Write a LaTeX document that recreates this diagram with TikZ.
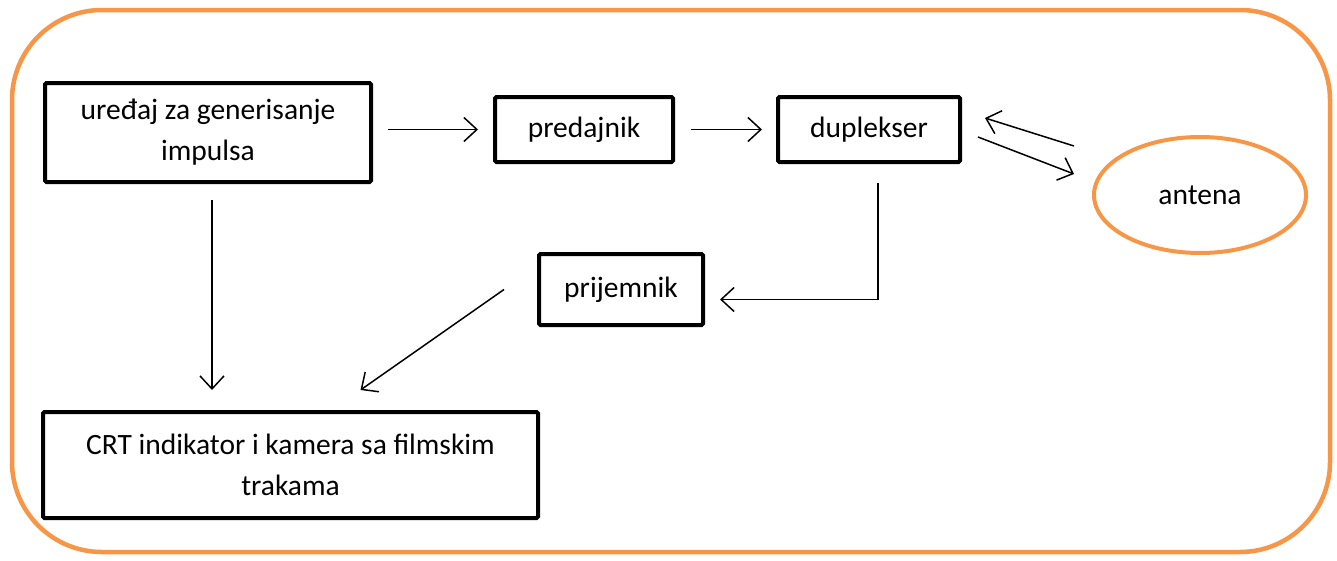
\documentclass[tikz,border=0pt]{standalone}
\usepackage{fontspec}
\setmainfont{Carlito}
\usepackage{tikz}
\usetikzlibrary{arrows.meta,shapes.geometric,calc}
\definecolor{narandza}{HTML}{F79646}

\begin{document}
\begin{tikzpicture}[x=1pt,y=-1pt,
	blok/.style={draw, line width=4pt, rounded corners=1.5pt, inner sep=0pt, align=center, font=\fontsize{29.5}{41}\selectfont},
	veza/.style={line width=1.5pt, -{Straight Barb[length=13pt,width=24pt]}}]
	\useasboundingbox (0,0) rectangle (1337,560);
	%okvir
	\draw [narandza, line width=4.5pt, rounded corners=90pt] (12,10) rectangle (1330,552);
	
	\node[blok, minimum width=326pt, minimum height=99pt] (gen) at (208,132.5) {uređaj za generisanje\\impulsa};
	\node[blok, minimum width=178pt, minimum height=65pt] (pred) at (584,129.5) {predajnik};
	\node[blok, minimum width=182pt, minimum height=65pt] (dup) at (869,129.5) {duplekser};
	\node[blok, minimum width=164pt, minimum height=71pt] (prij) at (621,289.5) {prijemnik};
	\node[blok, minimum width=495pt, minimum height=106pt] (crt) at (290.5,465) {CRT indikator i kamera sa filmskim\\trakama};
	\node[blok, draw=narandza, ellipse, minimum width=212pt, minimum height=116pt] (ant) at (1200,195) {antena};
	
	\draw [veza, shorten <=15pt, shorten >=15pt] (gen.east |- pred.west) -- (pred.west);
	\draw [veza, shorten <=16pt, shorten >=14pt] (pred) -- (dup);
	\draw [veza] ($(dup.east)+(16,7.5)$) -- ($(ant.west)+(-18,-21)$);
	\draw [veza] ($(ant.west)+(-18,-49)$) -- ($(dup.east)+(23,-11.5)$);
	\draw [veza] ($(dup.south)+(9,19)$) |- ($(prij.east)+(15,10)$);
	\draw [veza] ($(prij.west)+(-33,0)$) -- ($(crt.north)+(70,-20)$);
	\draw [veza] ($(gen.south)+(4,16)$) -- ($(gen.south |- crt.north)+(4,-20)$);
\end{tikzpicture}
\end{document}
